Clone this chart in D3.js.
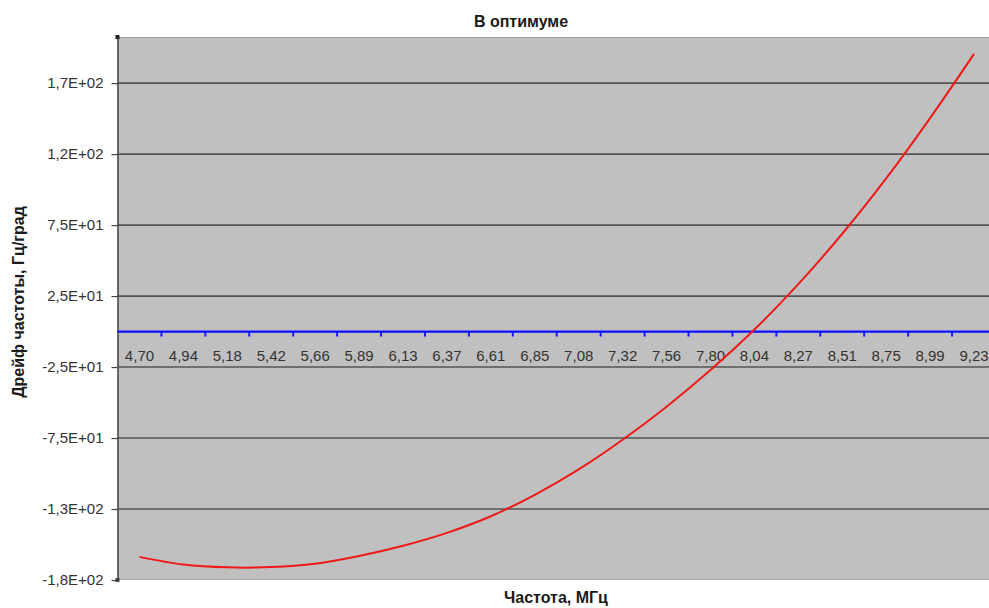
<!DOCTYPE html>
<html>
<head>
<meta charset="utf-8">
<script src="https://cdn.jsdelivr.net/npm/d3@7/dist/d3.min.js"></script>
<style>
  body { margin: 0; background: #fff; }
  text { font-family: Arial, "Liberation Sans", sans-serif; }
</style>
</head>
<body>
<svg id="chart" width="989" height="608"></svg>
<script>
// categories (frequency, MHz) as shown on the axis
var freqLabels = ["4,70","4,94","5,18","5,42","5,66","5,89","6,13","6,37","6,61","6,85",
                  "7,08","7,32","7,56","7,80","8,04","8,27","8,51","8,75","8,99","9,23"];

// frequency drift, Hz/deg
var drift = [-158.7,-164.1,-166.1,-165.9,-163.5,-158.1,-150.9,-141.8,-130.1,-115.0,
             -97.1,-76.2,-52.9,-27.1,1.4,33.4,68.9,107.9,150.4,195.6];

var yTicks = [-175,-125,-75,-25,25,75,125,175];
var yTickLabels = ["-1,8E+02","-1,3E+02","-7,5E+01","-2,5E+01","2,5E+01","7,5E+01","1,2E+02","1,7E+02"];

var margin = {top: 37, right: -7, bottom: 28, left: 117.5},
    W = 989, H = 608,
    width = W - margin.left - margin.right,
    height = H - margin.top - margin.bottom;

var svg = d3.select("#chart");

var x = d3.scaleBand()
    .domain(freqLabels)
    .range([0, width])
    .padding(0);

var y = d3.scaleLinear()
    .domain([-175, 207.5])
    .range([height, 0]);

var g = svg.append("g")
    .attr("transform", "translate(" + margin.left + "," + margin.top + ")");

// plot area
g.append("rect")
    .attr("width", width)
    .attr("height", height)
    .attr("fill", "#c0c0c0");
g.append("line")
    .attr("x1", 0).attr("x2", width)
    .attr("y1", 0.5).attr("y2", 0.5)
    .attr("stroke", "#9a9a9a");
g.append("line")
    .attr("x1", 0).attr("x2", width)
    .attr("y1", height - 0.5).attr("y2", height - 0.5)
    .attr("stroke", "#a8a8a8");

// gridlines
g.append("g").selectAll("line")
    .data(yTicks.filter(function(d){ return d > -175; }))
  .enter().append("line")
    .attr("x1", 0).attr("x2", width)
    .attr("y1", function(d){ return y(d); })
    .attr("y2", function(d){ return y(d); })
    .attr("stroke", "#545454")
    .attr("stroke-width", 1.6);

// y axis
var yAxis = d3.axisLeft(y)
    .tickValues(yTicks)
    .tickFormat(function(d, i){ return yTickLabels[i]; })
    .tickSize(6)
    .tickPadding(8);

var ya = g.append("g").attr("class", "y axis").call(yAxis);
ya.select(".domain").attr("stroke", "#444").attr("stroke-width", 1.5)
    .attr("d", "M0.5,0V" + height);
ya.selectAll(".tick line").attr("stroke", "#444").attr("stroke-width", 1.2);
ya.selectAll(".tick text")
    .attr("fill", "#333")
    .style("font-size", "15px");

// axis end markers
g.append("rect").attr("x", -2).attr("y", -2).attr("width", 4).attr("height", 4).attr("fill", "#222");
g.append("rect").attr("x", -2).attr("y", height - 2).attr("width", 4).attr("height", 4).attr("fill", "#444");

// category axis crossing at zero
var xAxis = d3.axisBottom(x)
    .tickSize(0)
    .tickPadding(19);

var xa = g.append("g")
    .attr("class", "x axis")
    .attr("transform", "translate(0," + y(0) + ")")
    .call(xAxis);
xa.select(".domain").remove();
xa.selectAll(".tick text")
    .attr("fill", "#333")
    .style("font-size", "15px");

var bounds = freqLabels.map(function(c){ return x(c); });
xa.selectAll(".bnd")
    .data(bounds.slice(1))
  .enter().append("line")
    .attr("class", "bnd")
    .attr("x1", function(d){ return d; })
    .attr("x2", function(d){ return d; })
    .attr("y1", 0).attr("y2", 5)
    .attr("stroke", "#1a1aff")
    .attr("stroke-width", 2);
xa.append("line")
    .attr("x1", 0).attr("x2", width)
    .attr("y1", 0).attr("y2", 0)
    .attr("stroke", "#1010ff")
    .attr("stroke-width", 2.2);

// the drift curve
var line = d3.line()
    .x(function(d, i){ return x(freqLabels[i]) + x.bandwidth() / 2; })
    .y(function(d){ return y(d); })
    .curve(d3.curveCatmullRom.alpha(0.5));

g.append("path")
    .datum(drift)
    .attr("fill", "none")
    .attr("stroke", "#f01818")
    .attr("stroke-width", 2)
    .attr("stroke-linejoin", "round")
    .attr("d", line);

// titles
svg.append("text")
    .attr("x", 521).attr("y", 27)
    .attr("text-anchor", "middle")
    .attr("fill", "#1a1a1a")
    .style("font-size", "16px")
    .style("font-weight", "bold")
    .text("В оптимуме");

svg.append("text")
    .attr("x", 556).attr("y", 603)
    .attr("text-anchor", "middle")
    .attr("fill", "#1a1a1a")
    .style("font-size", "16px")
    .style("font-weight", "bold")
    .text("Частота, МГц");

svg.append("text")
    .attr("transform", "translate(24,302) rotate(-90)")
    .attr("text-anchor", "middle")
    .attr("fill", "#1a1a1a")
    .style("font-size", "16px")
    .style("font-weight", "bold")
    .text("Дрейф частоты, Гц/град");
</script>
</body>
</html>
